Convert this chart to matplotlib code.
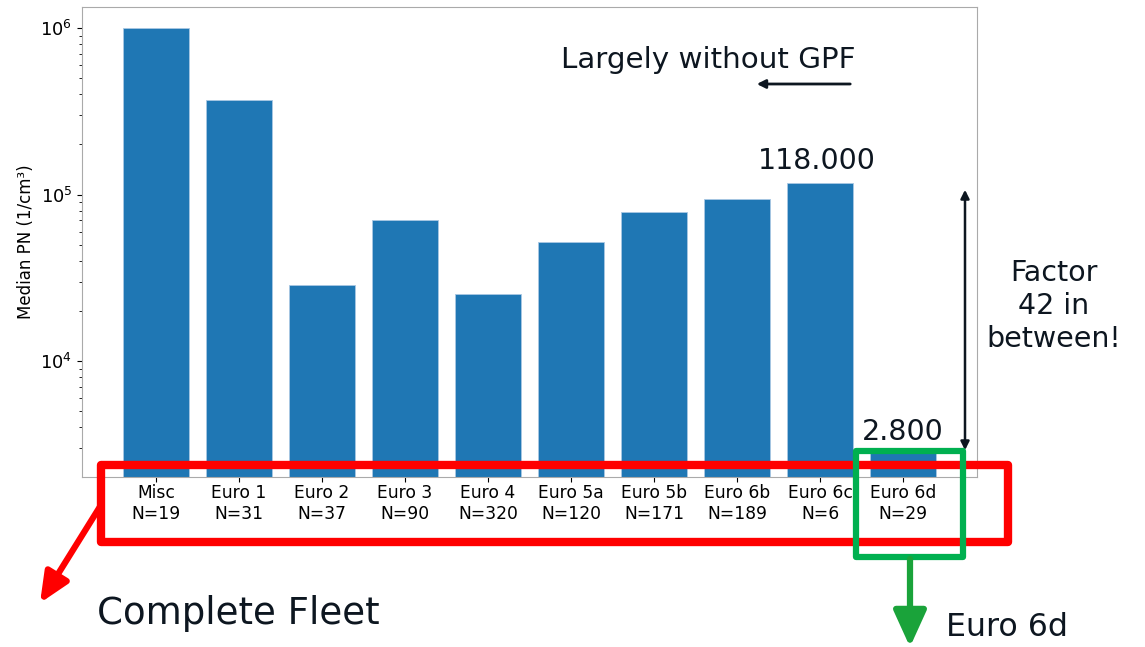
import matplotlib
matplotlib.use("Agg")
import matplotlib.pyplot as plt
from matplotlib.patches import Rectangle, FancyArrowPatch

categories = ["Misc\nN=19", "Euro 1\nN=31", "Euro 2\nN=37", "Euro 3\nN=90", "Euro 4\nN=320",
              "Euro 5a\nN=120", "Euro 5b\nN=171", "Euro 6b\nN=189", "Euro 6c\nN=6", "Euro 6d\nN=29"]
median_pn = [1000000, 370000, 28600, 70500, 25300, 52000, 78500, 94500, 118000, 2800]

W, H = 1145, 647
fig = plt.figure(figsize=(W / 100, H / 100), dpi=100)
ax = fig.add_axes([82 / W, 1 - 477 / H, (977 - 82) / W, (477 - 7) / H])

x = list(range(len(categories)))
ax.bar(x, median_pn, width=0.8, color="#1f77b4", edgecolor="#a9c8e3", linewidth=0.6)
ax.set_yscale("log")
ax.set_ylim(2010, 1.34e6)
ax.set_xticks(x)
ax.set_xticklabels(categories, fontsize=12.3)
ax.tick_params(axis="x", pad=1.5)
ax.tick_params(axis="y", labelsize=12.8)
ax.set_ylabel("Median PN (1/cm³)", fontsize=12)
ax.set_xlabel("Emission standard", fontsize=13, labelpad=2.2)
for s in ax.spines.values():
    s.set_color("#aaaaaa")

def P(px, py):
    return (px / W, 1 - py / H)

# the chart image is cropped just below the top of the x-axis label
fig.add_artist(Rectangle(P(60, 548), (1010 - 60) / W, (548 - 526) / H, transform=fig.transFigure,
                         facecolor="white", edgecolor="none", zorder=2))

txtc = "#0d1620"
fig.text(*P(708, 60), "Largely without GPF", fontsize=21.2, ha="center", va="center", color=txtc)
fig.text(*P(817, 161), "118.000", fontsize=20.5, ha="center", va="center", color=txtc)
fig.text(*P(903, 432), "2.800", fontsize=20.5, ha="center", va="center", color=txtc)
fig.text(*P(1054, 306), "Factor\n42 in\nbetween!", fontsize=20.5, ha="center", va="center",
         color=txtc, linespacing=1.22)
fig.text(*P(97, 613), "Complete Fleet", fontsize=26.7, ha="left", va="center", color=txtc)
fig.text(*P(946, 628), "Euro 6d", fontsize=22.8, ha="left", va="center", color=txtc)

# left arrow
fig.add_artist(FancyArrowPatch(P(853, 84), P(754, 84), transform=fig.transFigure,
               arrowstyle="-|>,head_length=5,head_width=2.5", color=txtc, lw=2))
# double arrow
fig.add_artist(FancyArrowPatch(P(965, 187), P(965, 453), transform=fig.transFigure,
               arrowstyle="<|-|>,head_length=5,head_width=2.5", color=txtc, lw=1.8))

# red box
rx0, ry0, rx1, ry1 = 101, 465, 1008, 542
fig.add_artist(Rectangle(P(rx0, ry1), (rx1 - rx0) / W, (ry1 - ry0) / H, transform=fig.transFigure,
                         fill=False, edgecolor="#ff0000", lw=6, joinstyle="round", zorder=3))
# green box
gx0, gy0, gx1, gy1 = 856, 451, 963, 557
fig.add_artist(Rectangle(P(gx0, gy1), (gx1 - gx0) / W, (gy1 - gy0) / H, transform=fig.transFigure,
                         fill=False, edgecolor="#00b050", lw=4.5, joinstyle="round", zorder=4))

# red arrow
fig.add_artist(FancyArrowPatch(P(101, 505), P(40, 603), transform=fig.transFigure,
               arrowstyle="-|>,head_length=18,head_width=8", color="#ff0000", lw=4.5,
               shrinkA=0, shrinkB=0, zorder=3))
# green arrow
fig.add_artist(FancyArrowPatch(P(910, 559), P(910, 647), transform=fig.transFigure,
               arrowstyle="-|>,head_length=22,head_width=10", color="#1aa33a", lw=4.5,
               shrinkA=0, shrinkB=0, zorder=4))

fig.savefig("out.png", dpi=100)
